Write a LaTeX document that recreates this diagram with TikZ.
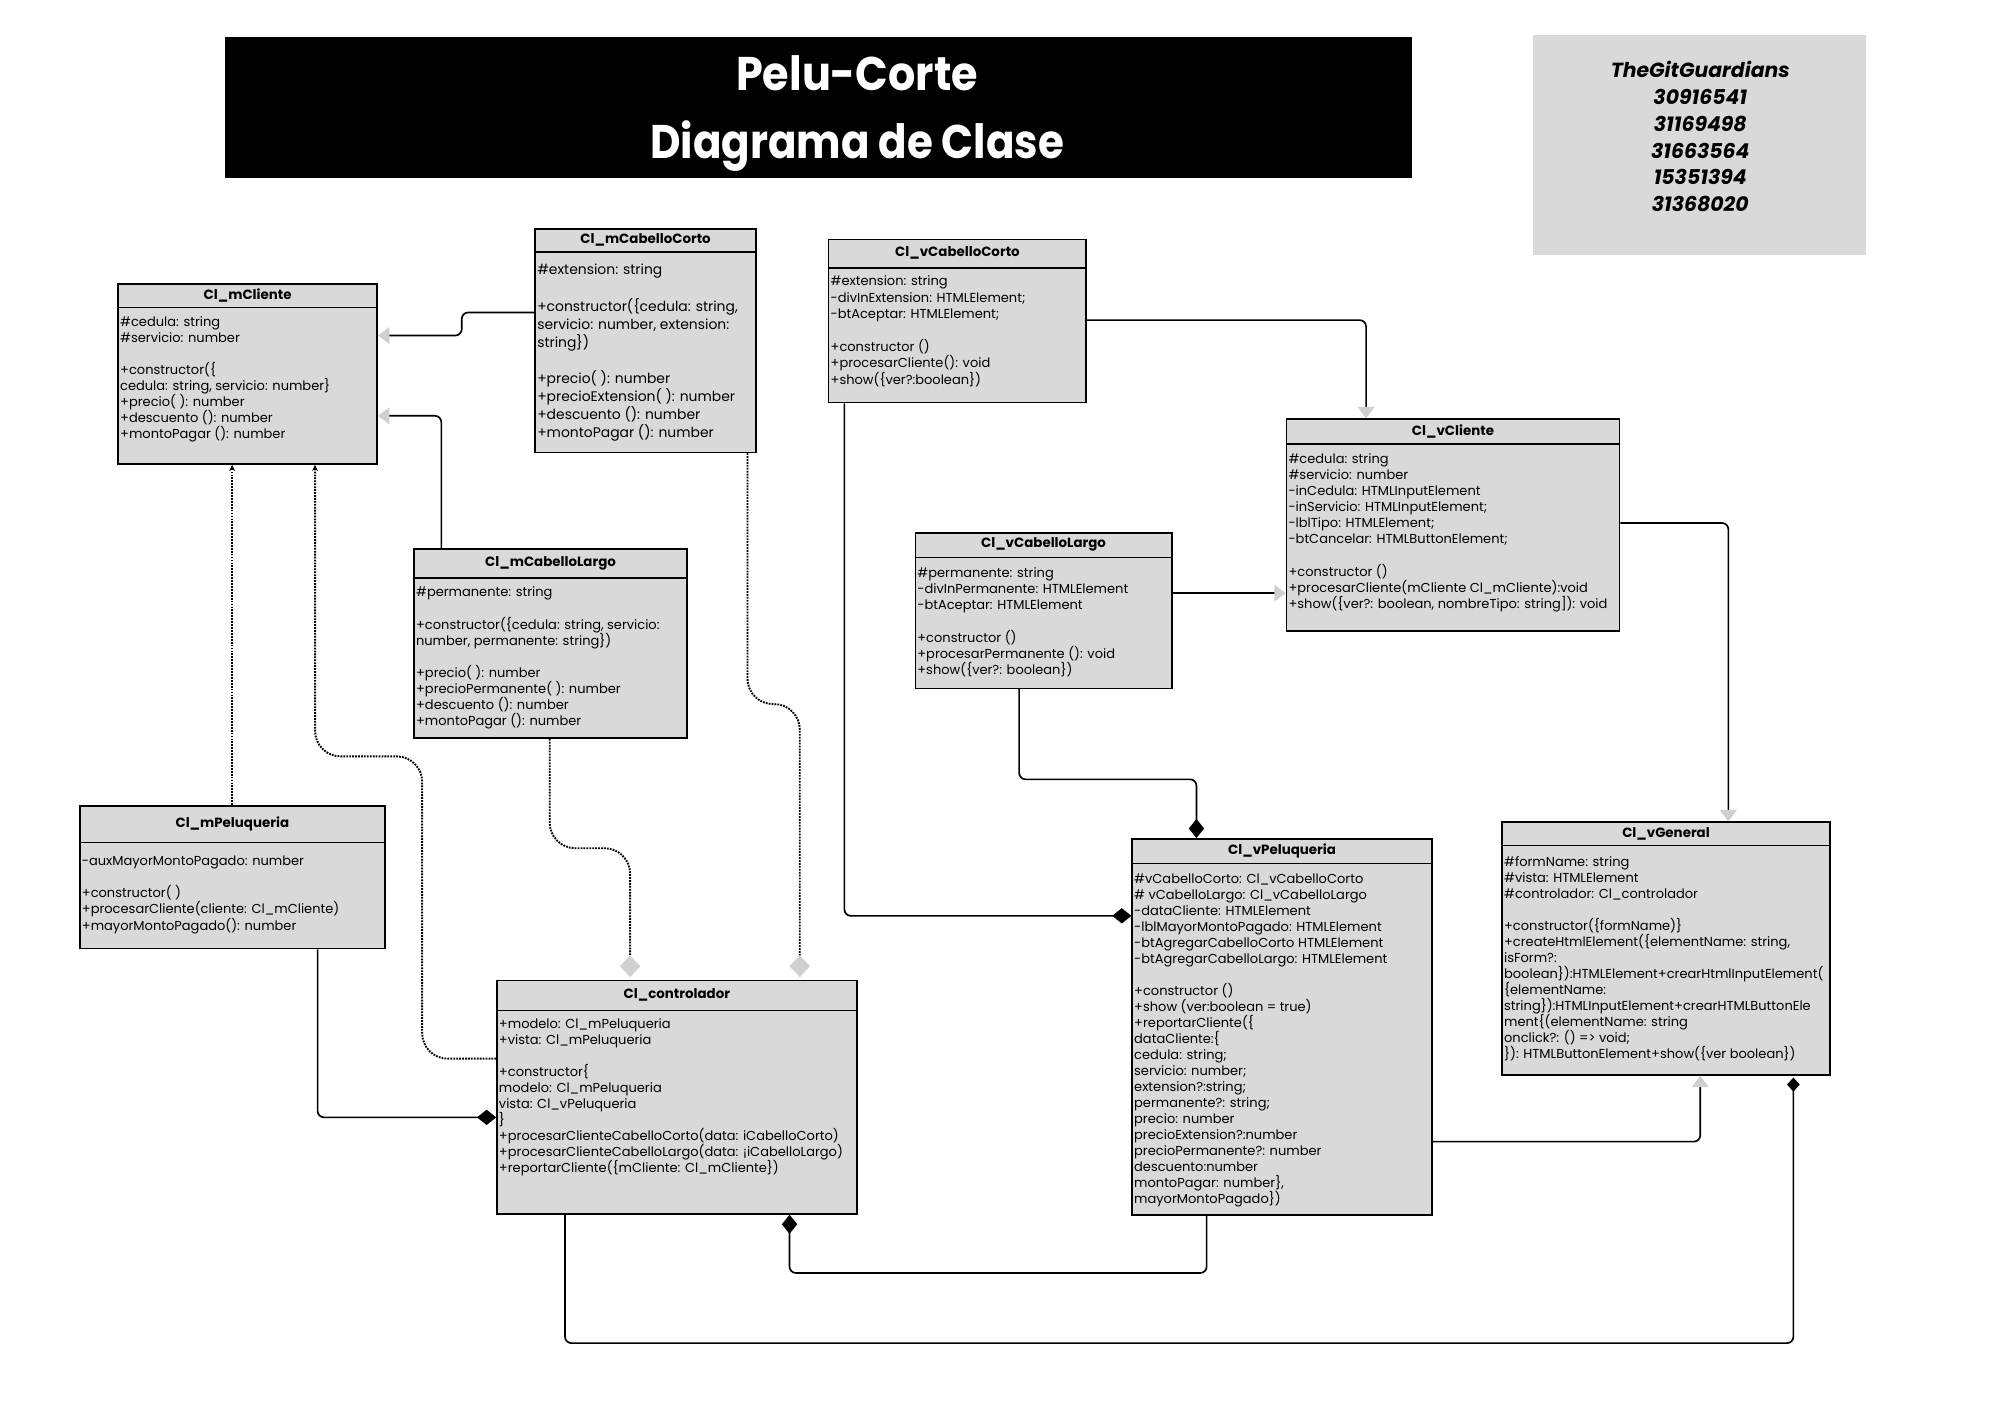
\documentclass[tikz,border=0pt]{standalone}
\usepackage{fontspec}
\setmainfont{Poppins}
\usetikzlibrary{arrows.meta,calc}
\definecolor{boxgrey}{HTML}{D9D9D9}
\definecolor{arrowgrey}{HTML}{CFCFCF}
\definecolor{diagrey}{HTML}{D0D0D0}
\newcommand{\umlclass}[9]{%
  \node[classbox, minimum width=#3pt, minimum height=#4pt] (#1) at (#2) {};
  \draw[line width=1.1pt] (#1.west |- 0,#5) -- (#1.east |- 0,#5);
  \node[ctitle] (#1-title) at ($(#1.north)!0.5!(#1.north |- 0,#5)$) {#7};
  \node[cbody,#9] (#1-body) at ($(#1.west |- 0,#6)+(2,0)$) {#8};
}
\begin{document}
\begin{tikzpicture}[x=1pt,y=-1pt,
  classbox/.style={draw=black, line width=1.3pt, fill=boxgrey, inner sep=0pt, anchor=north west, rectangle},
  ctitle/.style={font=\fontsize{10.5}{13}\selectfont\bfseries, inner sep=0pt, anchor=center},
  cbody/.style={font=\fontsize{10.2}{12.6}\selectfont, inner sep=0pt, anchor=north west, align=left},
  bigbody/.style={font=\fontsize{10.9}{14.2}\selectfont},
  titletext/.style={font=\fontsize{37}{40}\selectfont\bfseries, text=white, inner sep=0pt, anchor=base},
  conn/.style={line width=1.3pt, rounded corners=5pt},
  gen/.style={conn, -{Triangle[length=9pt,width=13pt,color=arrowgrey]}},
  comp/.style={conn, -{Diamond[length=15pt,width=12pt]}},
  compsmall/.style={conn, -{Diamond[length=11pt,width=10pt]}, shorten >=1.5pt},
  dep/.style={line width=1.5pt, dash pattern=on 1.4pt off 0.9pt, rounded corners=20pt, -{Stealth[length=5pt,width=4.5pt]}},
  agg/.style={line width=1.5pt, dash pattern=on 1.4pt off 0.9pt, rounded corners=20pt, -{Diamond[length=17pt,width=16pt,color=diagrey]}, shorten >=2pt}
]
\fill[white] (0,0) rectangle (1568,1109);
\useasboundingbox (0,0) rectangle (1568,1109);

% title
\node[fill=black, minimum width=931pt, minimum height=110pt, inner sep=0pt, anchor=north west] (titlebox) at (176,29) {};
\node[titletext] (t1) at (672,71) {\scalebox{0.91}[1]{Pelu-Corte}};
\node[titletext] (t2) at (672,124) {\scalebox{0.89}[1]{Diagrama de Clase}};

% team
\node[fill=boxgrey, minimum width=261pt, minimum height=173pt, inner sep=0pt, anchor=north west] (team) at (1202,27) {};
\node[font=\fontsize{16}{21}\selectfont\bfseries\itshape, align=center, anchor=north, inner sep=0pt] (teamtext) at (1333,48) {TheGitGuardians\\30916541\\31169498\\31663564\\15351394\\31368020};

% classes
\umlclass{mCli}{92,222}{203}{141}{241}{248}{Cl\_mCliente}{\#cedula: string\\\#servicio: number\\\mbox{}\\+constructor(\{\\cedula: string, servicio: number\}\\+precio( ): number\\+descuento (): number\\+montoPagar (): number}{}

\umlclass{mCC}{419,179}{173}{175}{197.5}{207}{Cl\_mCabelloCorto}{\#extension: string\\\mbox{}\\+constructor(\{cedula: string,\\servicio: number, extension:\\string\})\\\mbox{}\\+precio( ): number\\+precioExtension( ): number\\+descuento (): number\\+montoPagar (): number}{bigbody}

\umlclass{vCC}{649,187}{202}{128}{210}{216}{Cl\_vCabelloCorto}{\#extension: string\\-divInExtension: HTMLElement;\\-btAceptar: HTMLElement;\\\mbox{}\\+constructor ()\\+procesarCliente(): void\\+show(\{ver?:boolean\})}{font=\fontsize{10.2}{12.9}\selectfont}

\umlclass{vCli}{1008,328}{261}{166}{348}{355.5}{Cl\_vCliente}{\#cedula: string\\\#servicio: number\\-inCedula: HTMLInputElement\\-inServicio: HTMLInputElement;\\-lblTipo: HTMLElement;\\-btCancelar: HTMLButtonElement;\\\mbox{}\\+constructor ()\\+procesarCliente(mCliente Cl\_mCliente):void\\+show(\{ver?: boolean, nombreTipo: string]): void}{}

\umlclass{mCL}{324,430}{214}{148}{453}{460}{Cl\_mCabelloLargo}{\#permanente: string\\\mbox{}\\+constructor(\{cedula: string, servicio:\\number, permanente: string\})\\\mbox{}\\+precio( ): number\\+precioPermanente( ): number\\+descuento (): number\\+montoPagar (): number}{}

\umlclass{vCL}{717,417}{201}{122}{437}{445}{Cl\_vCabelloLargo}{\#permanente: string\\-divInPermanente: HTMLElement\\-btAceptar: HTMLElement\\\mbox{}\\+constructor ()\\+procesarPermanente (): void\\+show(\{ver?: boolean\})}{}

\umlclass{mPel}{62,631}{239}{112}{660.5}{671}{Cl\_mPeluqueria}{-auxMayorMontoPagado: number\\\mbox{}\\+constructor( )\\+procesarCliente(cliente: Cl\_mCliente)\\+mayorMontoPagado(): number}{}

\umlclass{ctrl}{389,768}{282}{183}{792}{798}{Cl\_controlador}{+modelo: Cl\_mPeluqueria\\+vista: Cl\_mPeluqueria\\\mbox{}\\+constructor\{\\modelo: Cl\_mPeluqueria\\vista: Cl\_vPeluqueria\\\}\\+procesarClienteCabelloCorto(data: iCabelloCorto)\\+procesarClienteCabelloLargo(data: ¡iCabelloLargo)\\+reportarCliente(\{mCliente: Cl\_mCliente\})}{}

\umlclass{vPel}{887,657}{235}{295}{677}{685}{Cl\_vPeluqueria}{\#vCabelloCorto: Cl\_vCabelloCorto\\\# vCabelloLargo: Cl\_vCabelloLargo\\-dataCliente: HTMLElement\\-lblMayorMontoPagado: HTMLElement\\-btAgregarCabelloCorto HTMLElement\\-btAgregarCabelloLargo: HTMLElement\\\mbox{}\\+constructor ()\\+show (ver:boolean = true)\\+reportarCliente(\{\\dataCliente:\{\\cedula: string;\\servicio: number;\\extension?:string;\\permanente?: string;\\precio: number\\precioExtension?:number\\precioPermanente?: number\\descuento:number\\montoPagar: number\},\\mayorMontoPagado\})}{font=\fontsize{10.2}{12.55}\selectfont}

\umlclass{vGen}{1177,644}{257}{198}{663}{671}{Cl\_vGeneral}{\#formName: string\\\#vista: HTMLElement\\\#controlador: Cl\_controlador\\\mbox{}\\+constructor(\{formName)\}\\+createHtmlElement(\{elementName: string,\\isForm?:\\boolean\}):HTMLElement+crearHtmlInputElement(\\\{elementName:\\string\}):HTMLInputElement+crearHTMLButtonEle\\ment\{(elementName: string\\onclick?: () => void;\\\}): HTMLButtonElement+show(\{ver boolean\})}{}

% connectors
\draw[gen] (mCC.west |- 0,245) -- (362,245) -- (362,263) -- (mCli.east |- 0,263);
\draw[gen] (mCL.north -| 346,0) -- (346,326) -- (mCli.east |- 0,326);
\draw[dep] (mPel.north -| 182,0) -- (mCli.south -| 182,0);
\draw[dep] (ctrl.west |- 0,830) -- (331,830) -- (331,593) -- (247,593) -- (mCli.south -| 247,0);
\draw[agg] (mCL.south -| 431,0) -- (431,665) -- (494,665) -- (ctrl.north -| 494,0);
\draw[agg] (mCC.south -| 586,0) -- (586,552) -- (627,552) -- (ctrl.north -| 627,0);
\draw[comp] (mPel.south -| 249,0) -- (249,876) -- (ctrl.west |- 0,876);
\draw[gen] (vCC.east |- 0,251) -- (1071,251) -- (vCli.north -| 1071,0);
\draw[gen] (vCL.east |- 0,465) -- (vCli.west |- 0,465);
\draw[gen] (vCli.east |- 0,410) -- (1355,410) -- (vGen.north -| 1355,0);
\draw[comp] (vCC.south -| 662,0) -- (662,718) -- (vPel.west |- 0,718);
\draw[comp] (vCL.south -| 799,0) -- (799,611) -- (938,611) -- (vPel.north -| 938,0);
\draw[gen] (vPel.east |- 0,895) -- (1333,895) -- (vGen.south -| 1333,0);
\draw[comp] (vPel.south -| 946,0) -- (946,998) -- (619,998) -- (ctrl.south -| 619,0);
\draw[compsmall] (ctrl.south -| 443,0) -- (443,1053) -- (1406,1053) -- (vGen.south -| 1406,0);
\end{tikzpicture}
\end{document}
